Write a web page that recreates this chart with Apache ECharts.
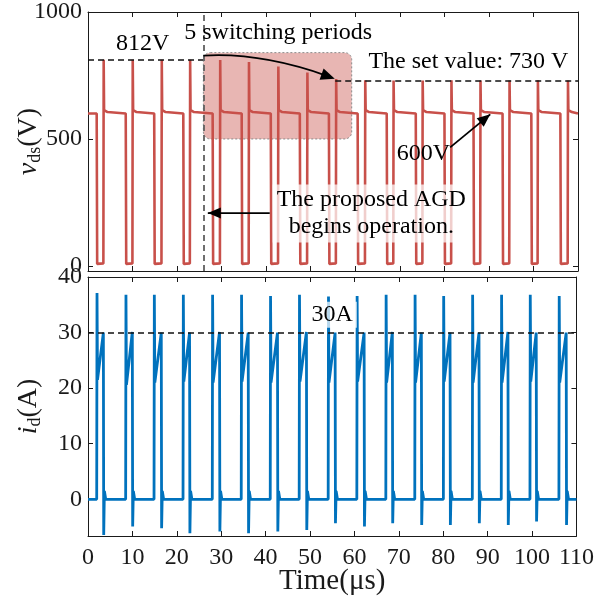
<!DOCTYPE html>
<html>
<head>
<meta charset="utf-8">
<script src="https://cdn.jsdelivr.net/npm/echarts@6/dist/echarts.min.js"></script>
<style>
  html, body { margin: 0; padding: 0; background: #fff; }
  #chart { width: 597px; height: 599px; }
</style>
</head>
<body>
<div id="chart"></div>
<script>
// switching instants (µs)
const turnOn  = [1.98, 8.50, 14.89, 21.42, 28.01, 34.53, 41.06, 47.58, 54.11, 60.56, 67.09, 73.61, 80.05, 86.57, 93.09, 99.55, 106.07];
const turnOff = [3.49, 10.01, 16.53, 22.90, 29.65, 36.11, 42.70, 49.22, 55.68, 62.21, 68.57, 75.10, 81.56, 88.08, 94.60, 100.97, 107.72];
// vds turn-off overshoot per period (V)
const vdsPeak = [812, 812, 812, 812, 811, 803, 785, 762, 736, 731, 730, 730, 731, 730, 730, 731, 730];
const vdsHigh = 600;
const vdsLow = 2;
// id: turn-on spike, value after spike, value at turn-off, turn-off undershoot (A)
const idPeak   = [37.1, 36.8, 36.8, 36.8, 36.8, 36.8, 36.6, 36.8, 36.5, 36.6, 36.8, 36.8, 36.6, 36.8, 36.8, 36.8, 36.6];
const idValley = [21.5, 20.6, 21.0, 21.2, 21.0, 21.2, 21.0, 21.2, 21.0, 21.2, 21.0, 21.0, 21.2, 21.0, 21.0, 21.2, 21.0];
const idEnd    = [30.0, 30.1, 30.0, 30.0, 30.1, 30.0, 30.0, 30.1, 30.0, 30.0, 30.1, 30.0, 30.0, 30.0, 30.1, 30.0, 30.0];
const idUnder  = [-6.4, -4.9, -5.2, -6.1, -5.8, -6.1, -5.8, -5.5, -4.3, -4.9, -4.3, -4.6, -4.6, -4.3, -4.6, -4.0, -4.6];

// tick labels
const vdsTicks = [0, 500, 1000];
const idTicks = [0, 10, 20, 30, 40];

// reference levels
const agdStart = 25.9;
const before = 812;
const setValue = 730;
const idRef = 30;

const serif = '"Liberation Serif", "Times New Roman", serif';
const ink = '#1a1a1a';
const red = '#c8504a';
const blue = '#0072bd';

// build the piecewise traces from the read switching events
function vdsTrace() {
  const pts = [[0, vdsHigh]];
  turnOn.forEach((on, k) => {
    const off = turnOff[k];
    pts.push([on - 0.03, vdsHigh], [on + 0.08, vdsLow + 6], [on + 0.5, vdsLow],
      [off - 0.04, vdsLow + 8], [off + 0.03, vdsPeak[k]], [off + 0.12, vdsHigh + 14],
      [off + 0.9, vdsHigh + 6], [off + 1.0, vdsHigh]);
  });
  pts.push([110, vdsHigh]);
  return pts;
}

function idTrace() {
  const pts = [[0, 0]];
  turnOn.forEach((on, k) => {
    const off = turnOff[k];
    pts.push([on - 0.02, 0], [on + 0.05, idPeak[k]], [on + 0.16, idValley[k]],
      [off - 0.03, idEnd[k]], [off + 0.05, idUnder[k]], [off + 0.2, 1.5], [off + 0.5, 0]);
  });
  pts.push([110, 0]);
  return pts;
}

function xAxis(grid, pos, labels) {
  return {
    type: 'value', gridIndex: grid, position: pos, min: 0, max: 110, interval: 10,
    name: labels ? 'Time(μs)' : '', nameLocation: 'middle', nameGap: 31,
    nameMoveOverlap: false,
    nameTextStyle: { fontFamily: serif, fontSize: 29, color: ink },
    axisLine: { show: true, onZero: false, lineStyle: { color: ink, width: 1 } },
    axisTick: { show: true, inside: true, length: 5, lineStyle: { color: ink } },
    axisLabel: { show: labels, fontFamily: serif, fontSize: 24, color: ink, margin: 10 },
    splitLine: { show: false }
  };
}

function yAxis(grid, pos, min, max, ticks, name) {
  return {
    type: 'value', gridIndex: grid, position: pos, min: min, max: max,
    name: name || '', nameLocation: 'middle', nameRotate: 90, nameGap: 44,
    nameMoveOverlap: false,
    nameTextStyle: {
      fontFamily: serif, fontSize: 28, color: ink,
      rich: {
        it: { fontFamily: serif, fontSize: 28, fontStyle: 'italic', color: ink },
        sub: { fontFamily: serif, fontSize: 18, color: ink, padding: [13, 0, 0, 0] },
        n: { fontFamily: serif, fontSize: 28, color: ink }
      }
    },
    axisLine: { show: true, onZero: false, lineStyle: { color: ink, width: 1 } },
    axisTick: { show: true, inside: true, length: 5, customValues: ticks, lineStyle: { color: ink } },
    axisLabel: {
      show: pos === 'left', customValues: ticks, formatter: (v) => String(v),
      fontFamily: serif, fontSize: 24, color: ink, margin: 6
    },
    splitLine: { show: false }
  };
}

const chart = echarts.init(document.getElementById('chart'), null, { renderer: 'canvas' });

const dash = [6, 4];
const option = {
  animation: false,
  backgroundColor: '#fff',
  grid: [
    { left: 88, right: 19, top: 11, height: 260 },
    { left: 88, right: 19, top: 277, height: 259 }
  ],
  xAxis: [xAxis(0, 'bottom', false), xAxis(0, 'top', false), xAxis(1, 'bottom', true), xAxis(1, 'top', false)],
  yAxis: [
    yAxis(0, 'left', -20, 1000, vdsTicks, '{it|v}{sub|ds}{n|(V)}'),
    yAxis(0, 'right', -20, 1000, vdsTicks),
    yAxis(1, 'left', -6.6, 40, idTicks, '{it|i}{sub|d}{n|(A)}'),
    yAxis(1, 'right', -6.6, 40, idTicks)
  ],
  series: [
    {
      type: 'line', xAxisIndex: 0, yAxisIndex: 0, data: vdsTrace(), showSymbol: false,
      lineStyle: { color: red, width: 2.6 }, z: 3,
      markLine: {
        silent: true, symbol: ['none', 'none'], label: { show: false }, animation: false,
        lineStyle: { type: dash, color: '#111', width: 1.5 },
        data: [
          [{ coord: [0, before] }, { coord: [agdStart, before] }],
          [{ coord: [55.5, setValue] }, { coord: [110, setValue] }],
          [{ coord: [agdStart, -20], lineStyle: { type: dash, color: '#606060', width: 1.8 } }, { coord: [agdStart, 1000] }]
        ]
      }
    },
    {
      type: 'line', xAxisIndex: 2, yAxisIndex: 2, data: idTrace(), showSymbol: false,
      lineStyle: { color: blue, width: 2.8 }, z: 3,
      markLine: {
        silent: true, symbol: ['none', 'none'], label: { show: false }, animation: false,
        lineStyle: { type: dash, color: '#111', width: 1.5 },
        data: [[{ coord: [0, idRef] }, { coord: [110, idRef] }]]
      }
    }
  ]
};
chart.setOption(option);

// annotations placed in data coordinates
const P = (t, v) => chart.convertToPixel({ seriesIndex: 0 }, [t, v]);
const Q = (t, v) => chart.convertToPixel({ seriesIndex: 1 }, [t, v]);

function head(tip, from, len, half) {
  const dx = tip[0] - from[0], dy = tip[1] - from[1];
  const d = Math.hypot(dx, dy), ux = dx / d, uy = dy / d;
  const bx = tip[0] - ux * len, by = tip[1] - uy * len;
  return {
    type: 'polygon', z: 100,
    shape: { points: [tip, [bx - uy * half, by + ux * half], [bx + uy * half, by - ux * half]] },
    style: { fill: '#000' }
  };
}

function label(xy, text, extra) {
  return {
    type: 'text', z: 100, x: xy[0], y: xy[1],
    style: Object.assign({
      text: text, font: '24px ' + serif, fill: '#000',
      textAlign: 'center', textVerticalAlign: 'middle', align: 'center', verticalAlign: 'middle'
    }, extra || {})
  };
}

const b0 = P(agdStart, 840), b1 = P(59.2, 500);
const c0 = P(agdStart, 828), cc = P(38.6, 842), c1 = P(55.4, 737);
const s0 = P(81.3, 467), s1 = P(90.3, 597);
const g0 = P(40.8, 208), g1 = P(26.9, 208);

chart.setOption({
  graphic: [
    {
      type: 'rect', z: 1,
      shape: { x: b0[0], y: b0[1], width: b1[0] - b0[0], height: b1[1] - b0[1], r: 7 },
      style: { fill: 'rgba(200,80,74,0.42)', stroke: '#8a8a8a', lineWidth: 1, lineDash: [2, 2] }
    },
    {
      type: 'bezierCurve', z: 100,
      shape: { x1: c0[0], y1: c0[1], cpx1: cc[0], cpy1: cc[1], x2: c1[0] - 8, y2: c1[1] - 3 },
      style: { stroke: '#000', lineWidth: 1.8, fill: null }
    },
    head(c1, cc, 14, 6),
    { type: 'line', z: 100, shape: { x1: s0[0], y1: s0[1], x2: s1[0], y2: s1[1] }, style: { stroke: '#000', lineWidth: 1.8 } },
    head(s1, s0, 13, 5.5),
    { type: 'line', z: 100, shape: { x1: g0[0], y1: g0[1], x2: g1[0], y2: g1[1] }, style: { stroke: '#000', lineWidth: 1.8 } },
    head(g1, g0, 13, 5.5),
    label(P(12.3, 875), '812V'),
    label(P(42.7, 918), '5 switching periods'),
    label(P(85.4, 804), 'The set value: 730 V'),
    label(P(75.3, 443), '600V'),
    label(P(63.6, 206), 'The proposed AGD\nbegins operation.', {
      lineHeight: 27, backgroundColor: 'rgba(255,255,255,0.72)', padding: [2, 4, 2, 4]
    }),
    label(Q(55, 33.2), '30A', { backgroundColor: 'rgba(255,255,255,0.72)', padding: [1, 4, 1, 4] })
  ]
});
</script>
</body>
</html>
